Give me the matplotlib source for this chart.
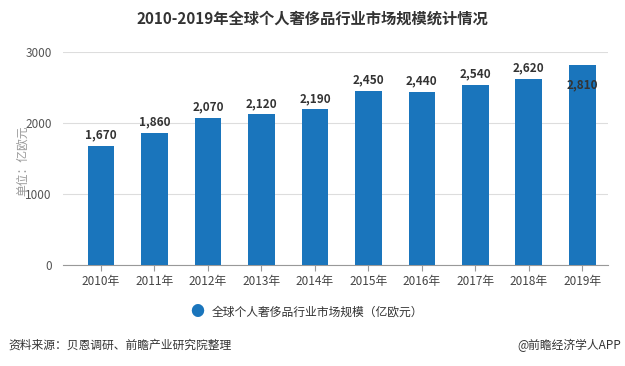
import numpy as np
import matplotlib
matplotlib.use('Agg')
import matplotlib.pyplot as plt

plt.rcParams['font.family'] = ['Noto Sans CJK SC', 'DejaVu Sans']

years = ['2010年', '2011年', '2012年', '2013年', '2014年',
         '2015年', '2016年', '2017年', '2018年', '2019年']
values = [1670, 1860, 2070, 2120, 2190, 2450, 2440, 2540, 2620, 2810]
yticks = [0, 1000, 2000, 3000]

bar_color = '#1a75bc'

fig = plt.figure(figsize=(6.25, 3.66), dpi=100)
ax = fig.add_axes([0.1008, 0.276, 0.872, 0.582])

x = np.arange(len(years))
ax.bar(x, values, width=0.5, color=bar_color, zorder=3)

for xi, v in zip(x, values):
    label = f'{v:,}'
    # the last bar nearly hits the top, so its label sits inside
    dy = -14 if v > 2700 else 8
    ax.annotate(label, (xi, v), xytext=(0, dy), textcoords='offset points',
                ha='center', va='center', fontsize=8.5, fontweight='bold',
                color='#333333', zorder=4)

ax.set_xlim(-0.71, 9.48)
ax.set_ylim(0, 3000)
ax.set_yticks(yticks)
ax.set_yticklabels([str(t) for t in yticks], color='#555555', fontsize=8.5)
ax.set_xticks(x)
ax.set_xticklabels(years, color='#444444', fontsize=8.5)
ax.grid(axis='y', color='#dddddd', linewidth=0.8, zorder=0)
for s in ['top', 'right', 'left']:
    ax.spines[s].set_visible(False)
ax.spines['bottom'].set_color('#999999')
ax.tick_params(axis='y', length=0, pad=8)
ax.tick_params(axis='x', length=4, color='#999999', pad=3)

ax.set_ylabel('单位：亿欧元', color='#999999', fontsize=8.5)
ax.yaxis.set_label_coords(-0.062, 0.49)

fig.text(0.5, 0.95, '2010-2019年全球个人奢侈品行业市场规模统计情况',
         ha='center', va='center', fontsize=11, fontweight='bold', color='#333333')

fig.text(0.316, 0.148, '●', ha='center', va='center', fontsize=10, color=bar_color)
fig.text(0.339, 0.148, '全球个人奢侈品行业市场规模（亿欧元）', ha='left', va='center',
         fontsize=8.5, color='#333333')

fig.text(0.013, 0.057, '资料来源：贝恩调研、前瞻产业研究院整理', ha='left', va='center',
         fontsize=8.5, color='#333333')
fig.text(0.993, 0.057, '@前瞻经济学人APP', ha='right', va='center',
         fontsize=8.5, color='#333333')

fig.savefig('out.png', dpi=100)
